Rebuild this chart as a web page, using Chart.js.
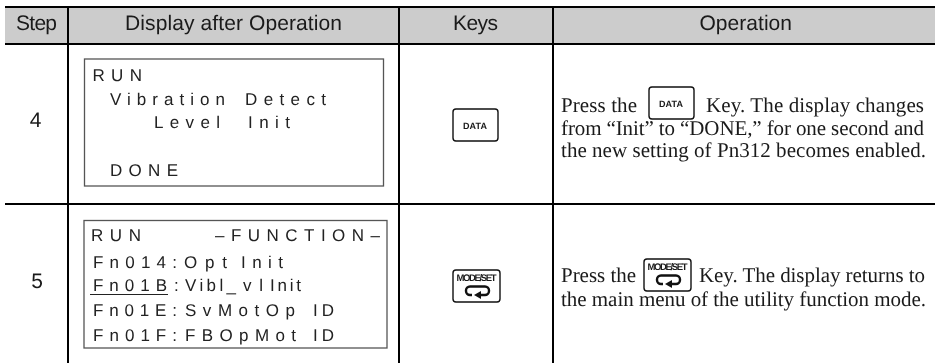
<!DOCTYPE html>
<html><head><meta charset="utf-8">
<style>html,body{margin:0;padding:0;background:#fff}canvas{display:block}</style>
<script src="https://cdn.jsdelivr.net/npm/chart.js@4"></script>
</head><body><canvas id="c" width="935" height="363"></canvas>
<script>
// Table content
const headers = ["Step", "Display after Operation", "Keys", "Operation"];
const steps = ["4", "5"];
const keyLabels = ["DATA", "MODE/SET"];
const display4 = ["RUN", "Vibration", "Detect", "Level", "Init", "DONE"];
const display5 = ["RUN", "–FUNCTION–", "Fn014:", "Opt", "Init", "Fn01B", ":", "Vibl_", "vl", "Init", "Fn01E:", "SvMotOp", "ID", "Fn01F:", "FBOpMot", "ID"];
const operation4 = ["Press the", "Key. The display changes", "from “Init” to “DONE,” for one second and", "the new setting of Pn312 becomes enabled."];
const operation5 = ["Press the", "Key. The display returns to", "the main menu of the utility function mode."];

// Layout: [x start, x end, baseline]
const headerSpans = [[16,57,30],[125,342,30],[453,498,30],[699.5,792,30]];
const display4Spans = [[92.5,142,81],[110,225,105],[245,326,105],[154,220,128],[248,290,128],[110,178,176]];
const display5Spans = [[91,141,241],[215,380,241],[93,177,268],[184,227,268],[241,283,268],[93,167,291],[174,177,291],[185,236,291],[243,263,291],[270,301,291],[93,177,316],[185,295,316],[313,334,316],[93,177,341],[185,296,341],[313,334,341]];
const operation4Spans = [[561,637,112],[706,924,112],[561,924,135],[561,926,157]];
const operation5Spans = [[561,636,282],[699,925,282],[561,926,306]];

const INK = "#1a1a1a";
function spanText(ctx, t, s, font) {
  ctx.font = font; ctx.textAlign = "left"; ctx.textBaseline = "alphabetic";
  ctx.textRendering = "geometricPrecision";
  ctx.letterSpacing = "0px";
  const w = ctx.measureText(t).width;
  const n = Math.max(1, t.length - 1);
  ctx.letterSpacing = ((s[1] - s[0] - w) / n).toFixed(3) + "px";
  ctx.fillText(t, s[0], s[2]);
  ctx.letterSpacing = "0px";
}
function centerText(ctx, t, x, y, font) {
  ctx.font = font; ctx.textAlign = "center"; ctx.textBaseline = "alphabetic";
  ctx.fillText(t, x, y);
}
function keyBox(ctx, x, y, w, h) {
  ctx.strokeStyle = "#111"; ctx.lineWidth = 1.4;
  ctx.beginPath(); ctx.roundRect(x, y, w, h, 3); ctx.stroke();
}
function dataKey(ctx, x, y) {
  keyBox(ctx, x, y, 45, 32);
  ctx.fillStyle = INK;
  spanText(ctx, keyLabels[0], [x + 10, x + 34, y + 20], "bold 9px 'Liberation Sans'");
}
function modeKey(ctx, x, y) {
  keyBox(ctx, x, y, 47, 32);
  ctx.fillStyle = INK;
  spanText(ctx, keyLabels[1], [x + 3.5, x + 43.5, y + 11], "bold 9.5px 'Liberation Sans'");
  ctx.strokeStyle = "#111"; ctx.lineWidth = 2.4;
  ctx.beginPath();
  ctx.moveTo(x + 19, y + 25);
  ctx.lineTo(x + 17, y + 25);
  ctx.arcTo(x + 13, y + 25, x + 13, y + 20, 4);
  ctx.arcTo(x + 13, y + 16.5, x + 18, y + 16.5, 4);
  ctx.lineTo(x + 32, y + 16.5);
  ctx.arcTo(x + 36, y + 16.5, x + 36, y + 21, 4);
  ctx.arcTo(x + 36, y + 25, x + 32, y + 25, 4);
  ctx.lineTo(x + 26, y + 25);
  ctx.stroke();
  ctx.fillStyle = "#111";
  ctx.beginPath(); ctx.moveTo(x + 21, y + 25); ctx.lineTo(x + 28, y + 21); ctx.lineTo(x + 28, y + 29); ctx.closePath(); ctx.fill();
}

const tablePlugin = {
  id: "table",
  afterDraw(chart) {
    const ctx = chart.ctx, X = chart.scales.x, Y = chart.scales.y;
    const px = v => X.getPixelForValue(v), py = v => Y.getPixelForValue(v);
    ctx.save();
    ctx.fillStyle = "#fff"; ctx.fillRect(0, 0, 935, 363);
    // Header band
    ctx.fillStyle = "#cccccc"; ctx.fillRect(px(5), py(7), px(935) - px(5), py(44) - py(7));
    // Rules
    ctx.strokeStyle = "#000"; ctx.lineWidth = 2;
    ctx.beginPath();
    [7, 44, 204].forEach(y => { ctx.moveTo(px(5), py(y)); ctx.lineTo(px(935), py(y)); });
    [68, 399, 553].forEach(x => { ctx.moveTo(px(x), py(6)); ctx.lineTo(px(x), py(363)); });
    ctx.stroke();
    // Header text
    ctx.fillStyle = INK;
    const hf = "21px 'Liberation Sans'";
    headers.forEach((t, i) => spanText(ctx, t, headerSpans[i], hf));
    // Step numbers
    centerText(ctx, steps[0], px(35.5), py(127), hf);
    centerText(ctx, steps[1], px(37), py(288), hf);
    // Display frames
    ctx.strokeStyle = "#555"; ctx.lineWidth = 1.3;
    ctx.strokeRect(px(84.5), py(59), 299, 127);
    ctx.strokeRect(px(84), py(220.5), 303, 127.5);
    const df = "17px 'Liberation Sans'";
    ctx.fillStyle = "#222";
    display4.forEach((t, i) => spanText(ctx, t, display4Spans[i], df));
    display5.forEach((t, i) => spanText(ctx, t, display5Spans[i], df));
    ctx.strokeStyle = "#222"; ctx.lineWidth = 1;
    ctx.beginPath(); ctx.moveTo(90, 294.5); ctx.lineTo(168, 294.5); ctx.stroke();
    // Key icons
    dataKey(ctx, 453, 109);
    modeKey(ctx, 453, 270);
    dataKey(ctx, 649, 87);
    modeKey(ctx, 644, 259);
    // Operation text
    const of = "21px 'Liberation Serif'";
    ctx.fillStyle = INK;
    operation4.forEach((t, i) => spanText(ctx, t, operation4Spans[i], of));
    operation5.forEach((t, i) => spanText(ctx, t, operation5Spans[i], of));
    ctx.restore();
  }
};

new Chart(document.getElementById("c"), {
  type: "scatter",
  data: { datasets: [{ data: [] }] },
  options: {
    responsive: false, animation: false, events: [],
    layout: { padding: 0 },
    plugins: { legend: { display: false }, tooltip: { enabled: false } },
    scales: {
      x: { type: "linear", min: 0, max: 935, display: false },
      y: { type: "linear", min: 0, max: 363, reverse: true, display: false }
    }
  },
  plugins: [tablePlugin]
});
</script></body></html>
